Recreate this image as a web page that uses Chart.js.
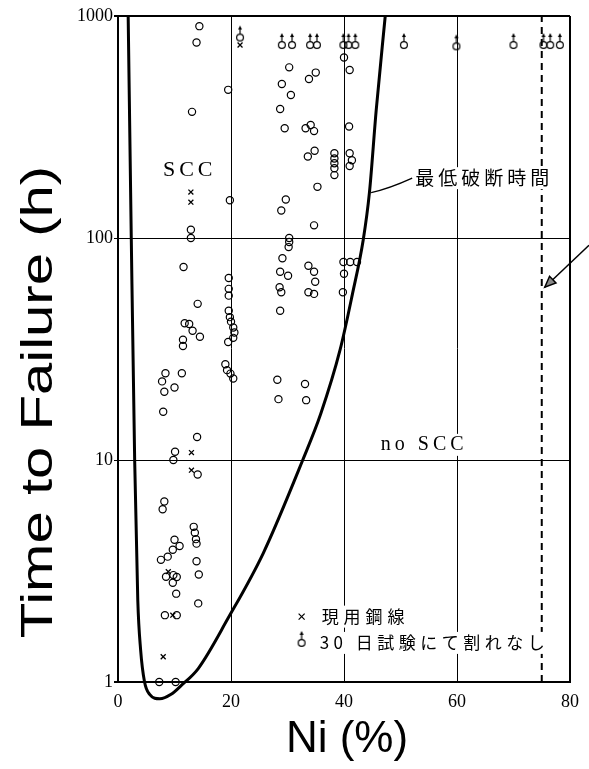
<!DOCTYPE html>
<html>
<head>
<meta charset="utf-8">
<script src="https://cdn.jsdelivr.net/npm/chart.js@4.4.1/dist/chart.umd.min.js"></script>
<style>
  html, body { margin: 0; padding: 0; background: #fff; }
  canvas { display: block; }
</style>
</head>
<body>
<canvas id="chart" width="589" height="769"></canvas>
<script>
const xTicks = [0, 20, 40, 60, 80];
const yTicks = [1, 10, 100, 1000];

// failed specimens (open circles)
const failedNi = [
  14.4, 13.9, 13.1, 12.9, 12.9, 11.6, 14.1, 11.8, 12.6, 13.2, 14.5, 11.5, 11.5,
  11.3, 8.4, 7.8, 8.2, 10.0, 8.0, 14.0, 10.1, 9.8, 14.1, 8.2, 7.9,
  13.4, 13.6, 13.8, 13.9, 10.0, 10.9, 9.7, 8.8, 7.6, 13.9, 14.3,
  8.5, 9.8, 10.4, 9.7, 10.3, 14.2, 8.3, 10.4, 7.3, 10.2, 8.0,
  19.5, 19.8, 19.6, 19.6, 19.6, 19.6, 19.8, 20.0, 20.4, 20.6, 20.4, 19.5, 19.0, 19.3, 19.9, 20.4,
  30.3, 29.0, 30.6, 28.7, 29.5, 29.7, 28.9, 30.3, 30.3, 30.2, 29.1, 28.7, 30.1, 28.6, 28.9, 28.7, 28.2, 28.4,
  35.0, 33.8, 33.2, 34.1, 34.7, 33.6, 34.8, 35.3, 34.7, 33.7, 34.7, 34.9, 33.7, 34.7, 33.1, 33.3,
  41.0, 40.9, 38.3, 38.3, 38.3, 38.3, 38.3, 41.0, 41.4, 41.0, 39.9, 41.1, 42.3, 40.0, 39.8, 40.0
];
const failedHours = [
  900, 760, 370, 109, 100, 74, 50.5, 41.3, 41, 38.2, 35.9, 34.8, 32.6,
  24.6, 24.6, 22.6, 20.3, 21.2, 16.5, 12.7, 10.9, 10.0, 8.6, 6.5, 6.0,
  5.0, 4.7, 4.4, 4.2, 4.37, 4.1, 3.94, 3.67, 3.55, 3.5, 3.05,
  2.98, 3.03, 2.97, 2.8, 2.5, 2.26, 2.0, 2.0, 1.0, 1.0, 0.89,
  465, 148, 66, 59, 55, 47, 44, 42, 39.5, 37.5, 35.5, 34, 27, 25.4, 24.5, 23.3,
  587, 494, 441, 381, 312, 149, 133, 100, 96, 91, 81, 70.5, 67.6, 60, 57, 47, 23, 18.8,
  556, 520, 312, 323, 303, 233, 247, 170, 114, 75, 70.5, 63.5, 57, 56, 22, 18.6,
  571, 318, 241, 228, 217, 206, 192, 241, 224, 211, 78, 78, 78, 69, 57, 650
];

// wire in current use (crosses)
const wireNi = [12.9, 12.9, 13.0, 13.0, 8.9, 9.7, 8.0, 21.6];
const wireHours = [161, 145, 10.8, 9.0, 3.14, 2.0, 1.3, 740];

// no cracking after 30 day test (circle with arrow)
const noCrackNi = [21.6, 29.0, 30.8, 34.0, 35.2, 39.9, 40.8, 42.0, 50.6, 59.9, 70.0, 75.3, 76.5, 78.2];
const noCrackHours = [800, 740, 740, 740, 740, 740, 740, 740, 740, 730, 740, 740, 740, 740];

// minimum time to failure curve
const curveNi = [1.8, 2.35, 2.95, 3.5, 4.0, 4.7, 5.6, 7.4, 9.4, 11.3, 14.2, 19.5, 25.7, 32.7, 35.9, 39.3, 41.5, 43.4, 44.5, 45.7, 47.3];
const curveHours = [1000, 100, 10, 2.34, 1.4, 1.0, 0.88, 0.84, 0.88, 0.97, 1.15, 1.94, 3.8, 10, 16.2, 31.3, 56, 98, 160, 377, 1000];

const limitNi = 75;

function pts(xs, ys) {
  return xs.map((x, i) => ({ x: x, y: ys[i] }));
}

function makeNoCrackMarker() {
  const c = document.createElement("canvas");
  c.width = 12;
  c.height = 26;
  const g = c.getContext("2d");
  g.strokeStyle = "#000";
  g.fillStyle = "#000";
  g.lineWidth = 1.2;
  g.beginPath();
  g.arc(6, 13, 3.4, 0, Math.PI * 2);
  g.stroke();
  g.beginPath();
  g.moveTo(6, 9.6);
  g.lineTo(6, 4);
  g.stroke();
  g.beginPath();
  g.moveTo(6, 1);
  g.lineTo(4, 5);
  g.lineTo(8, 5);
  g.closePath();
  g.fill();
  return c;
}
const noCrackMarker = makeNoCrackMarker();

const serif = '"Liberation Serif", "DejaVu Serif", serif';
const jp = '"Noto Sans CJK JP", sans-serif';

function label(ctx, text, x, y, font, spacing, align) {
  ctx.font = font;
  ctx.letterSpacing = spacing + "px";
  ctx.textAlign = align || "left";
  ctx.textBaseline = "middle";
  const w = ctx.measureText(text).width;
  const x0 = align === "center" ? x - w / 2 : x;
  ctx.fillStyle = "#fff";
  ctx.fillRect(x0 - 2, y - 11, w + 4, 22);
  ctx.fillStyle = "#000";
  ctx.fillText(text, x, y);
  ctx.letterSpacing = "0px";
}

const annotations = {
  id: "annotations",
  afterDraw(chart) {
    const ctx = chart.ctx;
    const xs = chart.scales.x;
    const ys = chart.scales.y;
    ctx.save();

    // axis titles
    ctx.fillStyle = "#000";
    ctx.font = '44px "Liberation Sans", Arial, sans-serif';
    ctx.textAlign = "center";
    ctx.textBaseline = "middle";
    ctx.fillText("Ni (%)", 347, 740);
    ctx.save();
    ctx.translate(40, 402);
    ctx.rotate(-Math.PI / 2);
    ctx.scale(1.32, 1);
    ctx.fillText("Time to Failure (h)", 0, 0);
    ctx.restore();

    // region labels
    label(ctx, "SCC", xs.getPixelForValue(12.7), ys.getPixelForValue(202), "22px " + serif, 4, "center");
    label(ctx, "no SCC", xs.getPixelForValue(54.2), ys.getPixelForValue(11.7), "20px " + serif, 4, "center");

    // curve label with leader
    const lx = xs.getPixelForValue(52.6);
    const ly = ys.getPixelForValue(186);
    label(ctx, "最低破断時間", lx, ly, "19px " + jp, 4, "left");
    ctx.strokeStyle = "#000";
    ctx.lineWidth = 1.3;
    ctx.beginPath();
    const cx = xs.getPixelForValue(44.8);
    const cy = ys.getPixelForValue(160);
    ctx.moveTo(cx, cy);
    ctx.quadraticCurveTo(cx + 18, cy - 4, lx - 3, ly);
    ctx.stroke();

    // legend
    const gx = xs.getPixelForValue(32.5);
    const g1 = ys.getPixelForValue(1.97);
    const g2 = ys.getPixelForValue(1.5);
    ctx.lineWidth = 1.2;
    ctx.beginPath();
    ctx.moveTo(gx - 3, g1 - 3);
    ctx.lineTo(gx + 3, g1 + 3);
    ctx.moveTo(gx + 3, g1 - 3);
    ctx.lineTo(gx - 3, g1 + 3);
    ctx.stroke();
    ctx.drawImage(noCrackMarker, gx - 6, g2 - 13);
    label(ctx, "現用鋼線", gx + 20, g1, "17px " + jp, 5, "left");
    label(ctx, "30 日試験にて割れなし", gx + 18, g2, "17px " + jp, 4.5, "left");

    // arrow pointing at the dashed line
    const tx = xs.getPixelForValue(limitNi) + 3;
    const ty = ys.getPixelForValue(60);
    const sx = chart.width;
    const sy = ty - 42;
    const ang = Math.atan2(ty - sy, tx - sx);
    ctx.strokeStyle = "#000";
    ctx.lineWidth = 1.5;
    ctx.beginPath();
    ctx.moveTo(sx, sy);
    ctx.lineTo(tx, ty);
    ctx.stroke();
    ctx.beginPath();
    ctx.moveTo(tx, ty);
    ctx.lineTo(tx - 12 * Math.cos(ang - 0.4), ty - 12 * Math.sin(ang - 0.4));
    ctx.lineTo(tx - 12 * Math.cos(ang + 0.4), ty - 12 * Math.sin(ang + 0.4));
    ctx.closePath();
    ctx.fillStyle = "#888";
    ctx.fill();
    ctx.stroke();

    ctx.restore();
  },
};

new Chart(document.getElementById("chart"), {
  type: "scatter",
  data: {
    datasets: [
      {
        data: pts(failedNi, failedHours),
        pointStyle: "circle",
        pointRadius: 3.6,
        borderColor: "#000",
        borderWidth: 1.2,
        backgroundColor: "rgba(0,0,0,0)",
        clip: false,
      },
      {
        data: pts(wireNi, wireHours),
        pointStyle: "crossRot",
        pointRadius: 3.5,
        borderColor: "#000",
        borderWidth: 1.3,
        clip: false,
      },
      {
        data: pts(noCrackNi, noCrackHours),
        pointStyle: noCrackMarker,
        clip: false,
      },
      {
        type: "line",
        data: pts(curveNi, curveHours),
        borderColor: "#000",
        borderWidth: 3,
        pointRadius: 0,
        cubicInterpolationMode: "monotone",
        fill: false,
        clip: false,
      },
      {
        type: "line",
        data: [
          { x: limitNi, y: 1 },
          { x: limitNi, y: 1000 },
        ],
        borderColor: "#000",
        borderWidth: 2,
        borderDash: [7, 5],
        pointRadius: 0,
        fill: false,
      },
    ],
  },
  options: {
    responsive: false,
    animation: false,
    layout: { padding: { top: 16, right: 19, left: 0, bottom: 0 } },
    plugins: {
      legend: { display: false },
      tooltip: { enabled: false },
    },
    scales: {
      x: {
        type: "linear",
        min: 0,
        max: 80,
        afterBuildTicks: (s) => {
          s.ticks = xTicks.map((v) => ({ value: v }));
        },
        afterFit: (s) => {
          s.height = 87;
        },
        ticks: {
          color: "#000",
          padding: 9,
          maxRotation: 0,
          font: { family: serif, size: 18 },
        },
        grid: {
          color: "#000",
          lineWidth: (c) => (c.index === 0 || c.index === xTicks.length - 1 ? 2 : 1),
          drawTicks: false,
        },
        border: { color: "#000", width: 2 },
      },
      y: {
        type: "logarithmic",
        min: 1,
        max: 1000,
        afterBuildTicks: (s) => {
          s.ticks = yTicks.map((v) => ({ value: v }));
        },
        afterFit: (s) => {
          s.width = 118;
        },
        ticks: {
          color: "#000",
          padding: 1,
          font: { family: serif, size: 18 },
          callback: (v) => String(v),
        },
        grid: {
          color: "#000",
          lineWidth: (c) => (c.index === 0 || c.index === yTicks.length - 1 ? 2 : 1),
          tickLength: 4,
        },
        border: { color: "#000", width: 2 },
      },
    },
  },
  plugins: [annotations],
});
</script>
</body>
</html>
